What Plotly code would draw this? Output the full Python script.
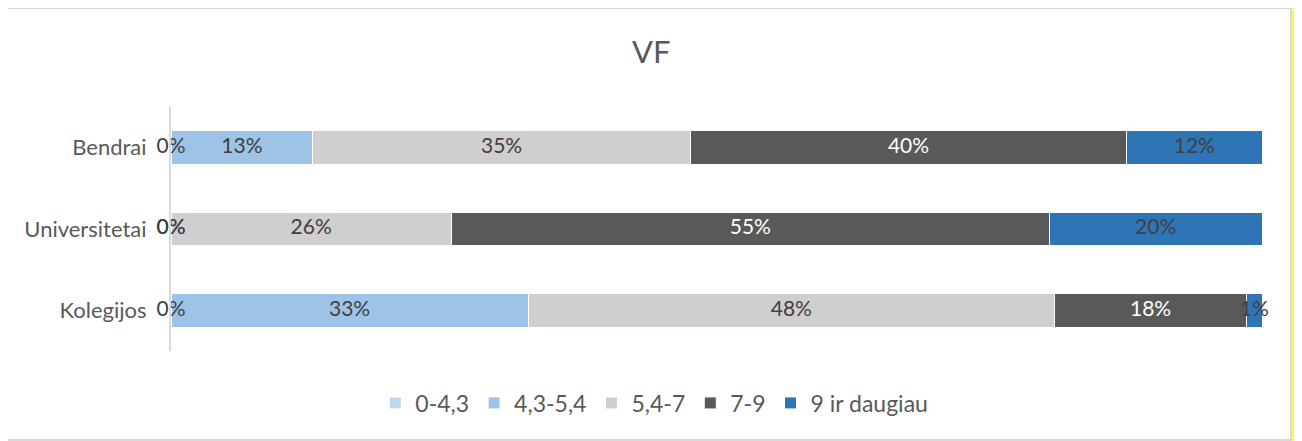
import plotly.graph_objects as go

# Categories top to bottom
categories = ["Bendrai", "Universitetai", "Kolegijos"]

series_names = ["0-4,3", "4,3-5,4", "5,4-7", "7-9", "9 ir daugiau"]
series_values = {
    "0-4,3":        [0.0, 0.0, 0.0],
    "4,3-5,4":      [13.0, 0.0, 32.7],
    "5,4-7":        [34.6, 25.7, 48.2],
    "7-9":          [40.0, 54.8, 17.6],
    "9 ir daugiau": [12.4, 19.5, 1.4],
}
series_colors = ["#BDD7EE", "#9DC3E6", "#D0CECE", "#595959", "#2E75B6"]
label_colors = ["#404040", "#404040", "#404040", "#FFFFFF", "#404040"]

FONT = "Lato"
TEXT_GRAY = "#595959"

# 100% stacked: normalise each category
totals = [sum(series_values[s][i] for s in series_names) for i in range(len(categories))]
shares = {s: [v / t * 100 for v, t in zip(series_values[s], totals)] for s in series_names}

fig = go.Figure()

for name, color in zip(series_names, series_colors):
    fig.add_trace(
        go.Bar(
            y=categories,
            x=shares[name],
            name=name,
            orientation="h",
            marker=dict(color=color, line=dict(color="white", width=1)),
            hoverinfo="skip",
        )
    )

# Data labels centred on each segment (also for zero-width segments)
cum = [0.0] * len(categories)
for name, lcolor in zip(series_names, label_colors):
    mids = [c + v / 2 for c, v in zip(cum, shares[name])]
    fig.add_trace(
        go.Scatter(
            y=categories,
            x=mids,
            mode="text",
            text=[f"{round(v):.0f}%" for v in shares[name]],
            textfont=dict(family=FONT, size=21, color=lcolor),
            showlegend=False,
            hoverinfo="skip",
            cliponaxis=False,
        )
    )
    cum = [c + v for c, v in zip(cum, shares[name])]

# Chart border and the yellow strip on the right
fig.add_shape(type="rect", xref="paper", yref="paper",
              x0=-0.1512, x1=1.0266, y0=-0.3648, y1=1.4057,
              line=dict(color="#D9D9D9", width=2), fillcolor="rgba(0,0,0,0)", layer="below")
fig.add_shape(type="rect", xref="paper", yref="paper",
              x0=1.0278, x1=1.0306, y0=-0.40, y1=1.4057,
              line=dict(width=0), fillcolor="#FFFF00", layer="below")

fig.update_layout(
    width=1302,
    height=441,
    barmode="stack",
    bargap=0.59,
    plot_bgcolor="white",
    paper_bgcolor="white",
    margin=dict(l=163, r=48, t=99, b=98),
    font=dict(family=FONT, color=TEXT_GRAY, size=21),
    title=dict(
        text="VF",
        font=dict(family=FONT, size=31, color=TEXT_GRAY),
        x=0.494, xref="container", xanchor="center",
        y=1 - 44 / 441, yref="container", yanchor="middle",
    ),
    showlegend=True,
    legend=dict(
        orientation="h",
        x=0.443, xanchor="center",
        y=-0.213, yanchor="middle",
        font=dict(family=FONT, size=23, color=TEXT_GRAY),
        traceorder="normal",
        itemwidth=30,
    ),
)

fig.update_xaxes(
    range=[0, 100],
    showgrid=False,
    zeroline=False,
    showticklabels=False,
    showline=False,
)
fig.update_yaxes(
    autorange="reversed",
    showgrid=False,
    showline=True,
    linecolor="#D9D9D9",
    linewidth=2,
    ticks="",
    ticklabelstandoff=18,
    tickfont=dict(family=FONT, size=22, color=TEXT_GRAY),
)

fig.write_html("out.html")
